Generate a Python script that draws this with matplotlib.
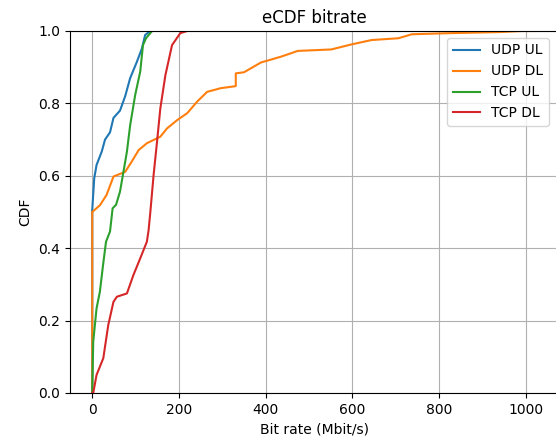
import matplotlib
matplotlib.use("Agg")
import matplotlib.pyplot as plt

# eCDF points (bit rate in Mbit/s, cumulative fraction)
udp_ul_x = [0, 0, 0, 4.6, 10, 22, 29.5, 41, 49, 64, 76, 87.5, 103, 114.6, 122, 134]
udp_ul_y = [0.0, 0.3, 0.505, 0.593, 0.63, 0.667, 0.70, 0.72, 0.76, 0.78, 0.82, 0.87, 0.915, 0.952, 0.989, 1.0]

udp_dl_x = [0, 0, 18, 33, 49, 76, 91, 107, 126, 157, 172.6, 196, 219, 242, 265, 281,
            296, 327, 331, 331, 350, 389, 435, 474, 551, 598, 644, 706, 737, 822, 938, 992, 1025]
udp_dl_y = [0.0, 0.5, 0.519, 0.547, 0.598, 0.611, 0.639, 0.671, 0.69, 0.708, 0.731, 0.754,
            0.773, 0.805, 0.832, 0.837, 0.842, 0.847, 0.848, 0.883, 0.886, 0.913, 0.929, 0.945,
            0.949, 0.963, 0.975, 0.98, 0.991, 0.994, 0.997, 1.0, 1.0]

tcp_ul_x = [0, 2.3, 10, 17.7, 25, 31.8, 41, 47, 54.9, 64, 72, 80, 87.5, 99, 110.7, 117, 124, 138]
tcp_ul_y = [0.0, 0.142, 0.234, 0.28, 0.354, 0.418, 0.446, 0.51, 0.52, 0.556, 0.611, 0.667,
            0.74, 0.823, 0.888, 0.961, 0.98, 1.0]

tcp_dl_x = [0, 2.3, 10, 25.5, 37, 49, 56.9, 80, 95, 110.7, 126, 130, 134, 141.5, 149.4, 157,
            168.7, 184, 203, 219]
tcp_dl_y = [0.0, 0.0, 0.05, 0.096, 0.188, 0.252, 0.266, 0.275, 0.326, 0.372, 0.418, 0.45, 0.50,
            0.602, 0.694, 0.786, 0.878, 0.961, 0.994, 1.0]

fig = plt.figure(figsize=(5.56, 4.38), dpi=100)
ax = fig.add_axes([70 / 556, 45 / 438, 489 / 556, 362 / 438])

ax.plot(udp_ul_x, udp_ul_y, label="UDP UL", linewidth=1.5)
ax.plot(udp_dl_x, udp_dl_y, label="UDP DL", linewidth=1.5)
ax.plot(tcp_ul_x, tcp_ul_y, label="TCP UL", linewidth=1.5)
ax.plot(tcp_dl_x, tcp_dl_y, label="TCP DL", linewidth=1.5)

ax.set_ylim(0, 1)
ax.set_title("eCDF bitrate")
ax.set_xlabel("Bit rate (Mbit/s)")
ax.set_ylabel("CDF")
ax.grid(True)
ax.legend(loc="upper right", bbox_to_anchor=(0.994, 1.0))

fig.savefig("out.png", dpi=100)
